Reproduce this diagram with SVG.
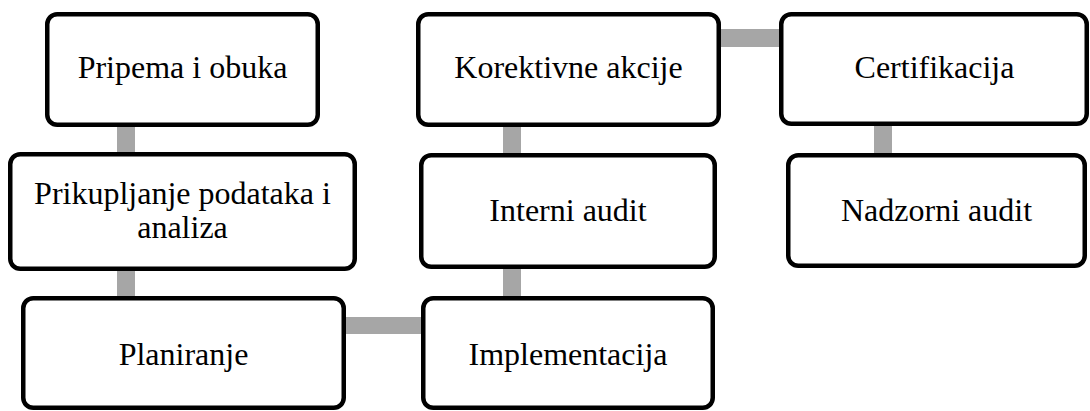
<svg xmlns="http://www.w3.org/2000/svg" width="1090" height="411" viewBox="0 0 1090 411">
<style>
.box{fill:#ffffff;stroke:#000000;stroke-width:4.5}
.lbl{font-family:"Liberation Serif","Times New Roman",serif;font-size:32px;fill:#000000;text-anchor:middle}
.con{fill:#a6a6a6}
</style>
<rect width="1090" height="411" fill="#ffffff"/>
<g id="connectors">
<rect class="con" x="117" y="125" width="18" height="30"/>
<rect class="con" x="117" y="268" width="18" height="30"/>
<rect class="con" x="344" y="317" width="79" height="17"/>
<rect class="con" x="503" y="266" width="18" height="32"/>
<rect class="con" x="503" y="125" width="18" height="32"/>
<rect class="con" x="719" y="29" width="62" height="18"/>
<rect class="con" x="874" y="124" width="18" height="31"/>
</g>
<g id="n1"><rect class="box" x="47.25" y="14.25" width="270.5" height="110.5" rx="10"/><text class="lbl" x="182.5" y="78">Pripema i obuka</text></g>
<g id="n2"><rect class="box" x="10.25" y="154.25" width="344.5" height="114.5" rx="10"/><text class="lbl" x="182.5" y="204">Prikupljanje podataka i</text><text class="lbl" x="182.5" y="238">analiza</text></g>
<g id="n3"><rect class="box" x="23.25" y="298.25" width="320.5" height="109.5" rx="10"/><text class="lbl" x="183.5" y="365">Planiranje</text></g>
<g id="n4"><rect class="box" x="423.25" y="298.25" width="289.5" height="109.5" rx="10"/><text class="lbl" x="568" y="365">Implementacija</text></g>
<g id="n5"><rect class="box" x="421.25" y="155.25" width="293.5" height="111.5" rx="10"/><text class="lbl" x="568" y="221">Interni audit</text></g>
<g id="n6"><rect class="box" x="418.25" y="14.25" width="300.5" height="110.5" rx="10"/><text class="lbl" x="568.5" y="78">Korektivne akcije</text></g>
<g id="n7"><rect class="box" x="781.25" y="14.25" width="305.5" height="109.5" rx="10"/><text class="lbl" x="934.5" y="78">Certifikacija</text></g>
<g id="n8"><rect class="box" x="788.25" y="155.25" width="296.5" height="110.5" rx="10"/><text class="lbl" x="936.5" y="221">Nadzorni audit</text></g>
</svg>
